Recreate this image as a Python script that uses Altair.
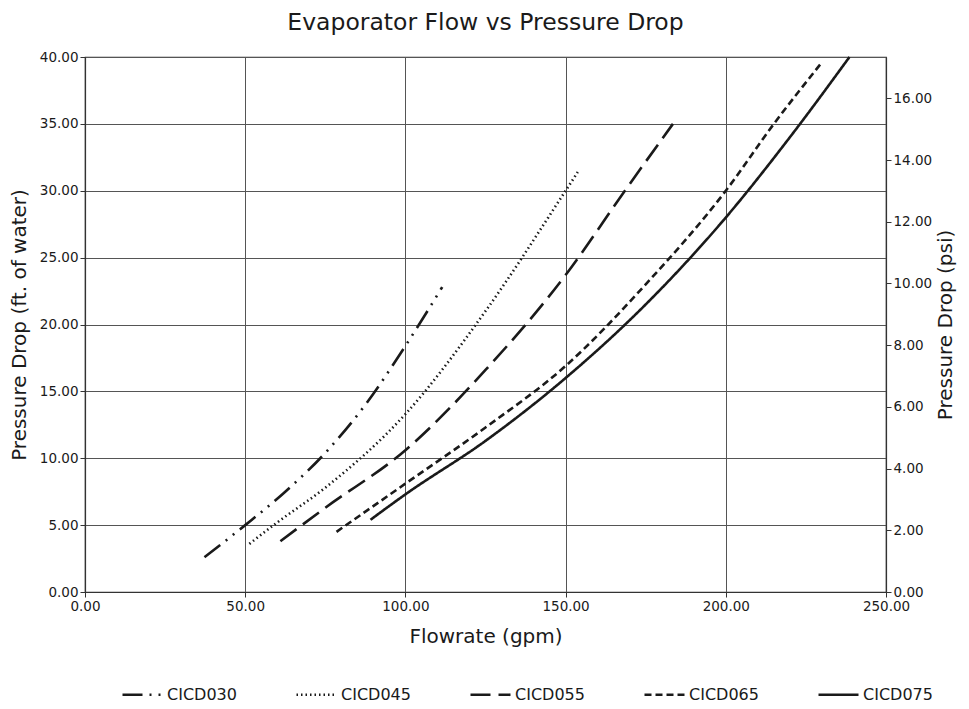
import altair as alt
import pandas as pd

models = ["CICD030", "CICD045", "CICD055", "CICD065", "CICD075"]

cicd030_gpm = [37.3, 50.0, 62.5, 75.0, 87.5, 100.0, 111.5]
cicd030_ft = [2.6, 5.0, 7.5, 10.4, 14.0, 18.4, 22.8]

cicd045_gpm = [51.3, 60.0, 75.0, 100.0, 125.0, 150.0, 153.8]
cicd045_ft = [3.6, 5.2, 7.8, 13.3, 21.0, 30.0, 31.4]

cicd055_gpm = [61.0, 75.0, 100.0, 125.0, 150.0, 168.5, 183.5]
cicd055_ft = [3.8, 6.3, 10.6, 16.6, 23.7, 30.0, 35.0]

cicd065_gpm = [78.5, 100.0, 125.0, 150.0, 175.0, 200.0, 215.0, 230.0]
cicd065_ft = [4.5, 8.1, 12.3, 16.9, 23.0, 30.0, 35.0, 39.6]

cicd075_gpm = [89.1, 100.0, 125.0, 150.0, 175.0, 200.0, 220.0, 238.6]
cicd075_ft = [5.4, 7.3, 11.3, 16.0, 21.5, 28.0, 34.0, 40.0]

x_ticks = [0, 50, 100, 150, 200, 250]
y_ticks = [0, 5, 10, 15, 20, 25, 30, 35, 40]
psi_ticks = [0, 2, 4, 6, 8, 10, 12, 14, 16]
FT_PER_PSI = 2.3067
psi_max = 40 / FT_PER_PSI

dashes = [[20, 7, 2, 7, 2, 7], [1.5, 3], [20, 8], [7, 4], [1, 0]]

series = [
    ("CICD030", cicd030_gpm, cicd030_ft),
    ("CICD045", cicd045_gpm, cicd045_ft),
    ("CICD055", cicd055_gpm, cicd055_ft),
    ("CICD065", cicd065_gpm, cicd065_ft),
    ("CICD075", cicd075_gpm, cicd075_ft),
]
rows = []
for name, xs, ys in series:
    for i, (x, y) in enumerate(zip(xs, ys)):
        rows.append({"model": name, "gpm": x, "ft": y, "order": i})
df = pd.DataFrame(rows)

psi_df = pd.DataFrame({"psi": [0, psi_max]})

FONT = "DejaVu Sans"

lines = alt.Chart(df).mark_line(
    color="#1a1a1a", strokeWidth=2.6, interpolate="monotone"
).encode(
    x=alt.X("gpm:Q", scale=alt.Scale(domain=[0, 250], nice=False),
            axis=alt.Axis(values=x_ticks, format=".2f", title="Flowrate (gpm)",
                          titlePadding=14, grid=True, labelFlush=False)),
    y=alt.Y("ft:Q", scale=alt.Scale(domain=[0, 40], nice=False),
            axis=alt.Axis(values=y_ticks, format=".2f",
                          title="Pressure Drop (ft. of water)",
                          titlePadding=10, grid=True)),
    strokeDash=alt.StrokeDash(
        "model:N",
        scale=alt.Scale(domain=models, range=dashes),
        legend=alt.Legend(
            title=None, orient="none", direction="horizontal",
            legendX=36, legendY=616,
            symbolType="stroke", symbolSize=1600, symbolStrokeWidth=2.6,
            symbolStrokeColor="#1a1a1a", labelFontSize=16, labelFont=FONT,
            labelColor="#1a1a1a", labelOffset=3, columnPadding=54,
        ),
    ),
    order="order:Q",
)

right = alt.Chart(psi_df).mark_point(opacity=0).encode(
    y=alt.Y("psi:Q", scale=alt.Scale(domain=[0, psi_max], nice=False),
            axis=alt.Axis(values=psi_ticks, format=".2f", orient="right",
                          title="Pressure Drop (psi)", titlePadding=4,
                          titleAngle=270, titleBaseline="top",
                          grid=False)),
)

chart = alt.layer(lines, right).resolve_scale(y="independent").properties(
    width=801, height=535,
    title=alt.TitleParams("Evaporator Flow vs Pressure Drop", fontSize=23.5,
                          font=FONT, fontWeight="normal", color="#1a1a1a",
                          offset=16),
    autosize=alt.AutoSizeParams(type="none"),
    padding={"left": 77, "top": 49, "right": 75, "bottom": 115},
).configure_view(
    stroke="#333333", strokeWidth=1.2
).configure_axis(
    labelFont=FONT, titleFont=FONT, labelFontSize=13.5, titleFontSize=20,
    titleFontWeight="normal", labelColor="#1a1a1a", titleColor="#1a1a1a",
    domainColor="#333333", domainWidth=1.2, tickColor="#333333", tickSize=5,
    gridColor="#555555", gridWidth=1, gridOpacity=1,
)

chart.save("out.html", embed_options={"renderer": "svg", "actions": False})
